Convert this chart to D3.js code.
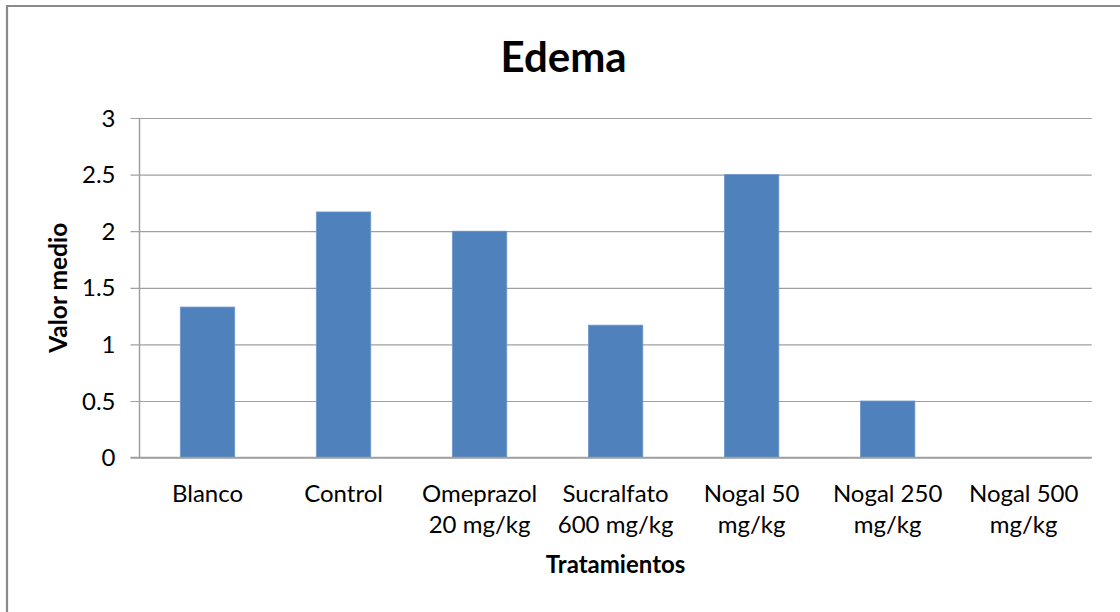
<!DOCTYPE html>
<html>
<head>
<meta charset="utf-8">
<script src="https://cdn.jsdelivr.net/npm/d3@7"></script>
<style>
  html, body { margin: 0; padding: 0; background: #fff; }
  text { font-family: Lato, "Open Sans", sans-serif; fill: #000; }
</style>
</head>
<body>
<svg id="chart" width="1120" height="612"></svg>
<script>
const title = "Edema";
const categories = [
  ["Blanco"],
  ["Control"],
  ["Omeprazol", "20 mg/kg"],
  ["Sucralfato", "600 mg/kg"],
  ["Nogal 50", "mg/kg"],
  ["Nogal 250", "mg/kg"],
  ["Nogal 500", "mg/kg"]
];
const values = [1.33, 2.17, 2.0, 1.17, 2.5, 0.5, 0];
const yTicks = [0, 0.5, 1, 1.5, 2, 2.5, 3];
const yTickLabels = ["0", "0.5", "1", "1.5", "2", "2.5", "3"];
const xTitle = "Tratamientos";
const yTitle = "Valor medio";

const svg = d3.select("#chart");
const W = 1120, H = 612;
const m = { left: 139.5, right: 1091.7, top: 118, bottom: 457.6 };

// frame: top and left edges only
svg.append("path")
  .attr("d", `M7,${H} L7,6 L${W},6`)
  .attr("fill", "none").attr("stroke", "#8a8a8a").attr("stroke-width", 2.2);

const x = d3.scaleBand()
  .domain(d3.range(categories.length))
  .range([m.left, m.right])
  .paddingInner(0.6).paddingOuter(0.3);
const y = d3.scaleLinear().domain([0, 3]).range([m.bottom, m.top]);

// gridlines + y ticks
const yAxis = d3.axisLeft(y).tickValues(yTicks)
  .tickFormat((d, i) => yTickLabels[i])
  .tickSize(-(m.right - m.left)).tickPadding(24);
const gy = svg.append("g").attr("transform", `translate(${m.left},0)`).call(yAxis);
gy.select(".domain").remove();
gy.selectAll(".tick line").attr("stroke", "#a0a0a0").attr("stroke-width", 1.2)
  .attr("x1", -9);
gy.selectAll(".tick text")
  .style("font-size", "24px").style("font-family", "Lato, sans-serif")
  .attr("fill", "#111").attr("dy", "0.34em").attr("x", -24);

// bars
svg.append("g").selectAll("rect").data(values).join("rect")
  .attr("x", (d, i) => x(i))
  .attr("width", x.bandwidth())
  .attr("y", d => y(d))
  .attr("height", d => y(0) - y(d))
  .attr("fill", "#4F81BD")
  .attr("stroke", "#6f98cc").attr("stroke-width", 0.8);

// y-axis line and x-axis line
svg.append("line").attr("x1", m.left).attr("x2", m.left)
  .attr("y1", m.top).attr("y2", m.bottom)
  .attr("stroke", "#a0a0a0").attr("stroke-width", 1.5);
svg.append("line").attr("x1", m.left - 9).attr("x2", m.right)
  .attr("y1", m.bottom).attr("y2", m.bottom)
  .attr("stroke", "#a0a0a0").attr("stroke-width", 1.5);

// x category labels
const gx = svg.append("g");
categories.forEach((lines, i) => {
  const t = gx.append("text")
    .attr("text-anchor", "middle")
    .style("font-size", "24px")
    .attr("fill", "#111");
  lines.forEach((ln, j) => {
    t.append("tspan")
      .attr("x", x(i) + x.bandwidth() / 2)
      .attr("y", 502 + j * 31)
      .text(ln);
  });
});

// titles
svg.append("text").attr("x", (m.left + m.right) / 2 - 52).attr("y", 72)
  .attr("text-anchor", "middle")
  .style("font-size", "42px").style("font-weight", "bold")
  .text(title);

svg.append("text").attr("x", (m.left + m.right) / 2).attr("y", 573)
  .attr("text-anchor", "middle")
  .style("font-size", "24px").style("font-weight", "bold")
  .text(xTitle);

svg.append("text")
  .attr("transform", `translate(67,${(m.top + m.bottom) / 2}) rotate(-90)`)
  .attr("text-anchor", "middle")
  .style("font-size", "24.5px").style("font-weight", "bold")
  .text(yTitle);
</script>
</body>
</html>
